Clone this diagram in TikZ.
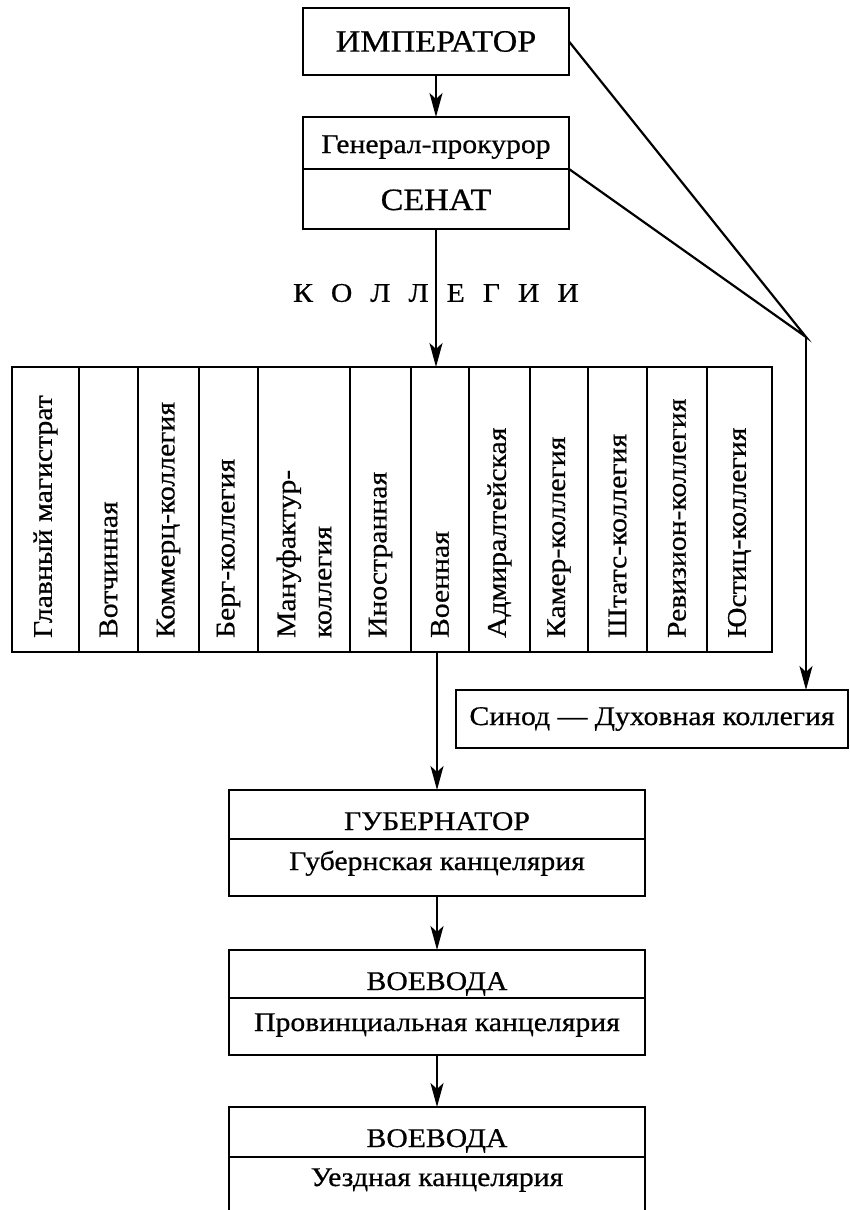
\documentclass[tikz,border=0pt]{standalone}
\usepackage{fontspec}
\setmainfont{Liberation Serif}[FakeStretch=1.1, FakeBold=0.6]
\usetikzlibrary{arrows.meta, positioning}

\newcommand{\bigtext}{\fontsize{31}{34}\selectfont}
\newcommand{\normtext}{\fontsize{27}{36}\selectfont}

\begin{document}
\begin{tikzpicture}[x=1pt, y=-1pt,
    box/.style={draw, line width=2.6pt, inner sep=0pt, outer sep=0pt, font=\normtext},
    colbox/.style={draw, line width=2.6pt, anchor=north west, minimum height=285pt, inner xsep=0pt, inner ysep=14pt, outer sep=0pt, font=\normtext},
    arr/.style={line width=2.2pt, -{Stealth[length=24pt, width=13pt, inset=6pt]}},
    link/.style={line width=2.2pt}]
    \useasboundingbox (0,0) rectangle (850,1210);  % page size of the scheme

    % Nodes
    \node[box, minimum width=266pt, minimum height=67pt, font=\bigtext] (imp) at (436,41.5) {ИМПЕРАТОР};  % the emperor on top
    \node[box, minimum width=266pt, text height=36pt, text depth=16pt, anchor=north] (prok) at (436,117) {Генерал-прокурор};
    \node[box, minimum width=266pt, text height=41pt, text depth=19pt, font=\bigtext, below=0pt of prok] (senat) {СЕНАТ};
    \node[font=\normtext] (koll) at (436,293) {\spaceskip=18pt К О Л Л Е Г И И};

    % the twelve collegia, written bottom to top
    \foreach \xl/\xr/\cname/\ctext in {12/79/glavmag/{Главный магистрат}, 79/138/votch/{Вотчинная},
        138/199/kommerc/{Коммерц-коллегия}, 199/258/berg/{Берг-коллегия}, 258/350/manuf/{Мануфактур-\\коллегия},
        350/411/inostr/{Иностранная}, 411/469/voen/{Военная}, 469/530/admir/{Адмиралтейская},
        530/588/kamer/{Камер-коллегия}, 588/647/shtats/{Штатс-коллегия}, 647/707/reviz/{Ревизион-коллегия},
        707/772/justic/{Юстиц-коллегия}}
        \node[colbox, minimum width=\xr-\xl] (\cname) at (\xl,367) {\rotatebox{90}{\parbox{257pt}{\raggedright\ctext}}};

    \node[box, minimum width=392pt, minimum height=58pt, anchor=north west] (sinod) at (456,690) {Синод~--- Духовная коллегия};

    \node[box, minimum width=416pt, text height=40pt, text depth=9pt, anchor=north] (gub) at (437,790) {ГУБЕРНАТОР};
    \node[box, minimum width=416pt, text height=31pt, text depth=26pt, below=0pt of gub] (gubk) {Губернская канцелярия};
    \node[box, minimum width=416pt, text height=40pt, text depth=8pt, anchor=north] (prov) at (437,950) {ВОЕВОДА};
    \node[box, minimum width=416pt, text height=33pt, text depth=24pt, below=0pt of prov] (provk) {Провинциальная канцелярия};
    \node[box, minimum width=416pt, text height=40pt, text depth=10pt, anchor=north] (uezd) at (437,1107) {ВОЕВОДА};
    \node[box, minimum width=416pt, text height=29pt, text depth=42pt, below=0pt of uezd] (uezdk) {Уездная канцелярия};  % runs off the page

    % Connections
    \draw[arr] (imp) -- (prok);
    \draw[arr] (senat) -- (senat.south |- voen.north);
    \draw[arr] (gub.north |- voen.south) -- (gub);
    \draw[arr] (gubk) -- (prov);
    \draw[arr] (provk) -- (uezd);

    \coordinate (bend) at (806,337);  % where the two lines to the Synod meet
    \draw[link] (imp.east) -- (bend) -- (prok.south east);
    \draw[arr] (bend) -- (bend |- sinod.north);
\end{tikzpicture}
\end{document}
